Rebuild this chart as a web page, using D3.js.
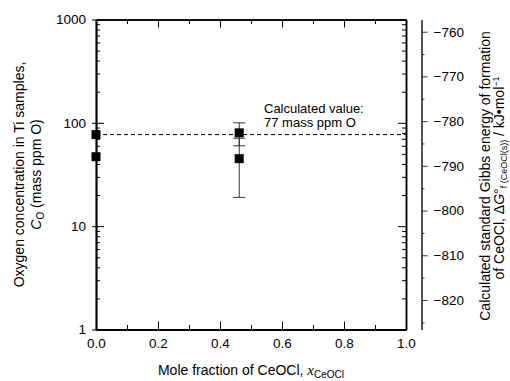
<!DOCTYPE html>
<html><head><meta charset="utf-8">
<script src="https://cdn.jsdelivr.net/npm/d3@7"></script>
<style>
body{margin:0;background:#fff;}
svg{display:block;font-family:"Liberation Sans",Arial,sans-serif;}
</style></head>
<body><svg id="c" width="510" height="381"></svg>
<script>
// ---- data ----
const xCeOCl = [0, 0, 0.462, 0.462];
const oxygenPPM = [77, 47, 80, 45];
const errPPM = [0, 0, 20, 26];
const calcValue = 77;
const calcText = ["Calculated value:", "77 mass ppm O"];
const yMajorTicks = [1, 10, 100, 1000];
const xMajorTicks = [0, 0.2, 0.4, 0.6, 0.8, 1.0];
const xMinorTicks = [0.1, 0.3, 0.5, 0.7, 0.9];
const gibbsMajorTicks = [-760, -770, -780, -790, -800, -810, -820];
const gibbsMinorTicks = [-765, -775, -785, -795, -805, -815, -825];

// ---- layout ----
const L = 96, R = 406, T = 19.5, B = 329.5, GX = 421.5;
const svg = d3.select("#c");
const x = d3.scaleLinear().domain([0, 1]).range([L, R]);
const y = d3.scaleLog().domain([1, 1000]).range([B, T]);
const g = d3.scaleLinear().domain([-826.6, -757.27]).range([B, T]);

const yMinor = [];
yMajorTicks.slice(0, -1).forEach(d => { for (let k = 2; k <= 9; k++) yMinor.push(d * k); });

function styleAx(sel, w, col) {
  sel.selectAll(".domain").attr("stroke", col || "#000").attr("stroke-width", w || 1.5);
  sel.selectAll(".tick line").attr("stroke", col || "#000").attr("stroke-width", 1);
  sel.selectAll("text").attr("fill", "#000").attr("font-family", '"Liberation Sans",Arial,sans-serif');
  return sel;
}

// error bars
const pts = xCeOCl.map((d, i) => ({x: d, v: oxygenPPM[i], e: errPPM[i]}));
const eb = svg.append("g").attr("stroke", "#333").attr("stroke-width", 1);
pts.filter(p => p.e > 0).forEach(p => {
  const cx = x(p.x);
  eb.append("line").attr("x1", cx).attr("x2", cx).attr("y1", y(p.v + p.e)).attr("y2", y(p.v - p.e));
  [p.v + p.e, p.v - p.e].forEach(v => eb.append("line").attr("x1", cx - 6).attr("x2", cx + 6).attr("y1", y(v)).attr("y2", y(v)));
});

// dashed calculated line
svg.append("line").attr("x1", L).attr("x2", R).attr("y1", y(calcValue)).attr("y2", y(calcValue))
  .attr("stroke", "#000").attr("stroke-width", 1).attr("stroke-dasharray", "4,3");

// squares
const sz = 9;
svg.append("g").selectAll("rect").data(pts).join("rect")
  .attr("x", d => x(d.x) - sz / 2).attr("y", d => y(d.v) - sz / 2)
  .attr("width", sz).attr("height", sz).attr("fill", "#000");

// annotation
svg.append("g").selectAll("text").data(calcText).join("text")
  .attr("x", 264).attr("y", (d, i) => 113 + i * 14)
  .attr("font-size", 13).attr("fill", "#000").text(d => d);

// left axis: labels + outer part of major ticks
styleAx(svg.append("g").attr("transform", `translate(${L},0)`)
  .call(d3.axisLeft(y).tickValues(yMajorTicks).tickFormat(d3.format("d")).tickSize(4).tickSizeOuter(0).tickPadding(6))
  .attr("font-size", 13.5));
// inner major + minor on left
styleAx(svg.append("g").attr("transform", `translate(${L},0)`)
  .call(d3.axisRight(y).tickValues(yMajorTicks).tickFormat("").tickSize(8).tickSizeOuter(0)));
styleAx(svg.append("g").attr("transform", `translate(${L},0)`)
  .call(d3.axisRight(y).tickValues(yMinor).tickFormat("").tickSize(4).tickSizeOuter(0)));
// right frame
styleAx(svg.append("g").attr("transform", `translate(${R},0)`)
  .call(d3.axisLeft(y).tickValues(yMajorTicks).tickFormat("").tickSize(8).tickSizeOuter(0)));
styleAx(svg.append("g").attr("transform", `translate(${R},0)`)
  .call(d3.axisLeft(y).tickValues(yMinor).tickFormat("").tickSize(4).tickSizeOuter(0)));

// bottom axis
styleAx(svg.append("g").attr("transform", `translate(0,${B})`)
  .call(d3.axisBottom(x).tickValues(xMajorTicks).tickFormat(d3.format(".1f")).tickSize(0).tickSizeOuter(0).tickPadding(9))
  .attr("font-size", 13.5));
styleAx(svg.append("g").attr("transform", `translate(0,${B})`)
  .call(d3.axisTop(x).tickValues(xMajorTicks).tickFormat("").tickSize(8).tickSizeOuter(0)));
styleAx(svg.append("g").attr("transform", `translate(0,${B})`)
  .call(d3.axisTop(x).tickValues(xMinorTicks).tickFormat("").tickSize(4.5).tickSizeOuter(0)));
// top frame
styleAx(svg.append("g").attr("transform", `translate(0,${T})`)
  .call(d3.axisBottom(x).tickValues(xMajorTicks).tickFormat("").tickSize(8).tickSizeOuter(0)));
styleAx(svg.append("g").attr("transform", `translate(0,${T})`)
  .call(d3.axisBottom(x).tickValues(xMinorTicks).tickFormat("").tickSize(4.5).tickSizeOuter(0)));

// Gibbs axis
styleAx(svg.append("g").attr("transform", `translate(${GX},0)`)
  .call(d3.axisRight(g).tickValues(gibbsMajorTicks).tickFormat(d3.format("d")).tickSize(6).tickSizeOuter(0).tickPadding(6))
  .attr("font-size", 13.5), 1.2, "#333");
styleAx(svg.append("g").attr("transform", `translate(${GX},0)`)
  .call(d3.axisRight(g).tickValues(gibbsMinorTicks).tickFormat("").tickSize(3).tickSizeOuter(0)), 1.2, "#333");

// axis titles
const xt = svg.append("text").attr("x", (L + R) / 2).attr("y", 375).attr("text-anchor", "middle").attr("font-size", 14);
xt.append("tspan").text("Mole fraction of CeOCl, ");
xt.append("tspan").attr("font-family", '"Liberation Serif","Times New Roman",serif').attr("font-style", "italic").attr("font-size", 15).text("x");
xt.append("tspan").attr("font-size", 10).attr("dy", 3).text("CeOCl");

const cy = (T + B) / 2;
svg.append("text").attr("transform", `translate(24,${cy}) rotate(-90)`).attr("text-anchor", "middle")
  .attr("font-size", 14).text("Oxygen concentration in Ti samples,");
const yt2 = svg.append("text").attr("transform", `translate(41,${cy}) rotate(-90)`).attr("text-anchor", "middle").attr("font-size", 14);
yt2.append("tspan").attr("font-style", "italic").text("C");
yt2.append("tspan").attr("font-size", 10).attr("dy", 3).text("O");
yt2.append("tspan").attr("dy", -3).text(" (mass ppm O)");

svg.append("text").attr("transform", `translate(490,176) rotate(-90)`).attr("text-anchor", "middle")
  .attr("font-size", 14).text("Calculated standard Gibbs energy of formation");
const rt2 = svg.append("text").attr("transform", `translate(504,178) rotate(-90)`).attr("text-anchor", "middle").attr("font-size", 14);
rt2.append("tspan").text("of CeOCl, \u0394");
rt2.append("tspan").attr("font-style", "italic").text("G");
rt2.append("tspan").text("\u00b0");
rt2.append("tspan").attr("font-size", 9).attr("dy", 2.5).text("f (CeOCl(s))");
rt2.append("tspan").attr("dy", -2.5).text(" / kJ\u2022mol");
rt2.append("tspan").attr("font-size", 9).attr("dy", -5).text("\u22121");
</script></body></html>
